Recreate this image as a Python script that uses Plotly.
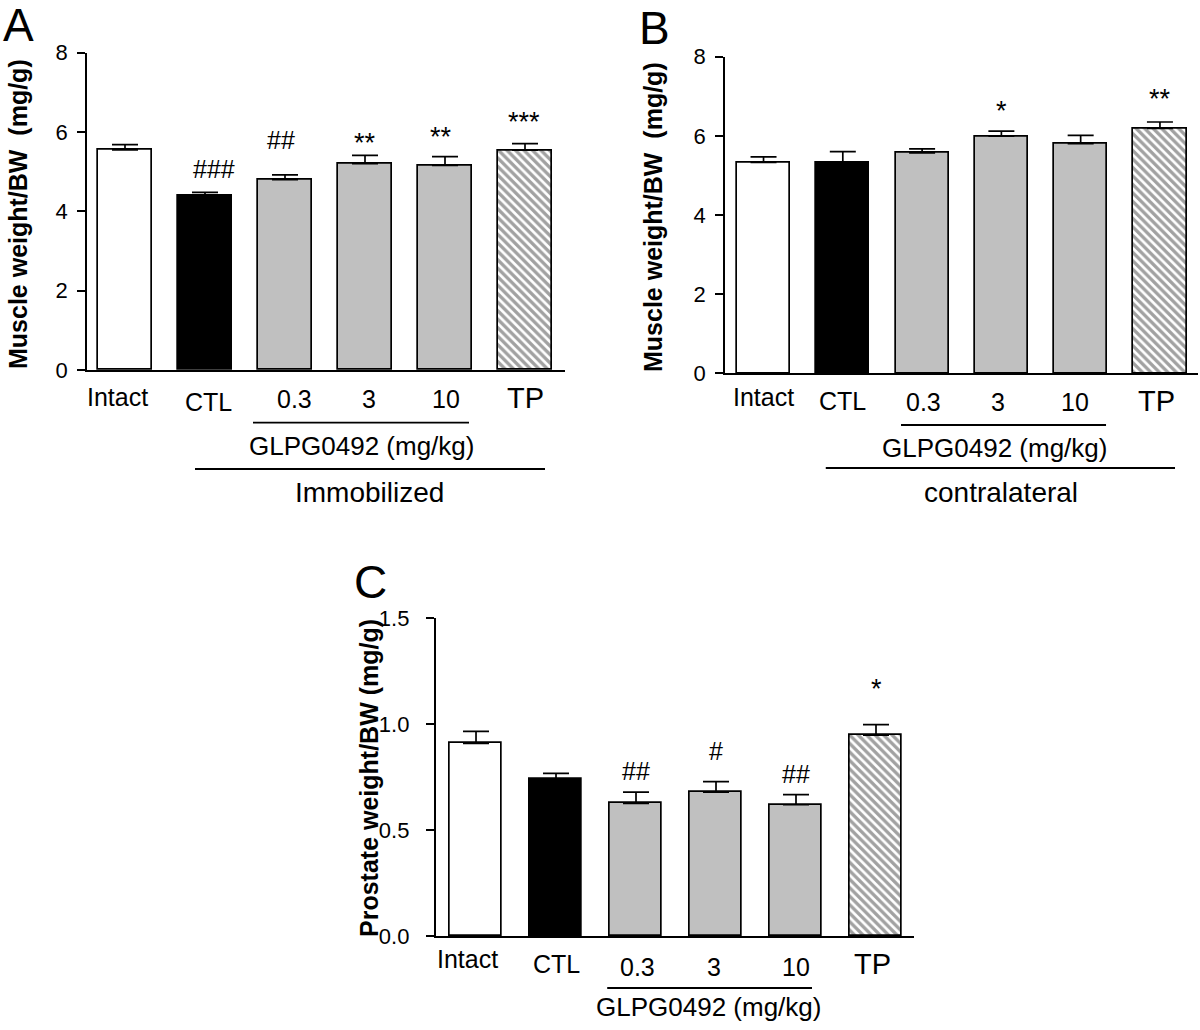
import plotly.graph_objects as go

# ---------------- data ----------------
categories = ["Intact", "CTL", "0.3", "3", "10", "TP"]

a_mean = [5.55, 4.39, 4.80, 5.20, 5.16, 5.54]
a_sem = [0.13, 0.09, 0.12, 0.21, 0.22, 0.17]
a_sig = ["", "###", "##", "**", "**", "***"]

b_mean = [5.33, 5.32, 5.57, 5.99, 5.80, 6.19]
b_sem = [0.14, 0.28, 0.10, 0.13, 0.21, 0.16]
b_sig = ["", "", "", "*", "", "**"]
b_sig2 = ["", "", "", "", "", "##"]

c_mean = [0.909, 0.739, 0.626, 0.679, 0.619, 0.947]
c_sem = [0.056, 0.028, 0.053, 0.049, 0.048, 0.050]
c_sig = ["", "", "##", "#", "##", "*"]

a_ticks = [0, 2, 4, 6, 8]
c_ticks = [0.0, 0.5, 1.0, 1.5]

# ---------------- styles / positions ----------------
W, H = 1200, 1030
FONT = "Liberation Sans, Arial, sans-serif"
fills = ["white", "black", "#c0c0c0", "#c0c0c0", "#c0c0c0", "white"]
patterns = ["", "", "", "", "", "\\"]

a_sig_y = [None, 5.08, 5.81, 5.90, 6.04, 6.42]
b_sig_y = [None, None, None, 6.80, None, 7.11]
b_sig2_y = [None, None, None, None, None, 8.02]
c_sig_y = [None, None, 0.78, 0.875, 0.764, 1.198]
a_sig_dx = [0, 9, -4, 0, -4, -1]


def px(x):
    return x / W


def py(y):
    return 1 - y / H


fig = go.Figure()

panels = [
    dict(name="1", mean=a_mean, sem=a_sem, xd=[87, 565], yd=[370, 52.7], xr=[-0.475, 5.5],
         yr=[0, 8], ticks=a_ticks, fmt="d", bw=0.675),
    dict(name="2", mean=b_mean, sem=b_sem, xd=[725, 1198], yd=[373.3, 56.7], xr=[-0.486, 5.48],
         yr=[0, 8], ticks=a_ticks, fmt="d", bw=0.67),
    dict(name="3", mean=c_mean, sem=c_sem, xd=[435.7, 914], yd=[936, 618], xr=[-0.504, 5.475],
         yr=[0, 1.5], ticks=c_ticks, fmt=".1f", bw=0.65),
]

layout = {}
for p in panels:
    n = p["name"]
    xa = "x" if n == "1" else "x" + n
    ya = "y" if n == "1" else "y" + n
    fig.add_trace(go.Bar(
        x=categories, y=p["mean"], xaxis=xa, yaxis=ya, width=p["bw"],
        marker=dict(color=fills, line=dict(color="black", width=1.7),
                    pattern=dict(shape=patterns, fgcolor="black", bgcolor="white",
                                 size=6, solidity=0.55, fillmode="overlay")),
        error_y=dict(type="data", array=p["sem"], arrayminus=[0] * len(p["sem"]),
                     symmetric=False, color="black", thickness=1.7, width=13),
        showlegend=False, hoverinfo="skip"))
    layout["xaxis" + ("" if n == "1" else n)] = dict(
        domain=[px(p["xd"][0]), px(p["xd"][1])], range=p["xr"], anchor=ya,
        type="category", showline=True, linecolor="black", linewidth=1.7,
        ticks="", showticklabels=False, showgrid=False, zeroline=False, fixedrange=True,
        automargin=False)
    layout["yaxis" + ("" if n == "1" else n)] = dict(
        domain=[py(p["yd"][0]), py(p["yd"][1])], range=p["yr"], anchor=xa,
        showline=True, linecolor="black", linewidth=1.7, ticks="outside", ticklen=8,
        tickwidth=1.7, tickcolor="black", tickvals=p["ticks"], tickformat=p["fmt"],
        tickfont=dict(family=FONT, size=22, color="black"), showgrid=False,
        zeroline=False, fixedrange=True, automargin=False,
        ticklabelstandoff=5 if n != "3" else 12)

fig.update_layout(**layout)

ann = []
txt = dict(family=FONT, color="black")

cat_y = {
    "1": [396.5, 401.5, 399, 399, 399, 398],
    "2": [396.5, 401, 401.5, 401.5, 401.5, 401],
    "3": [959, 963.5, 966.5, 966.5, 966.5, 964],
}
cat_dx = {
    "1": [-8, 3, 9, 4, 1, 0],
    "2": [0, 0, 1, -3, -6, -3],
    "3": [-9, 0, 1, -2, 0, -4],
}
for n in ["1", "2", "3"]:
    xr = "x" if n == "1" else "x" + n
    for i, c in enumerate(categories):
        ann.append(dict(x=i, xref=xr, y=py(cat_y[n][i]), yref="paper", text=c,
                        showarrow=False, xanchor="center", yanchor="middle",
                        xshift=cat_dx[n][i],
                        font=dict(size=29 if c == "TP" else 25, **txt)))


def sig(labels, ys, xr, yr, dx=None):
    for i, (s, yv) in enumerate(zip(labels, ys)):
        if not s:
            continue
        star = s.startswith("*")
        ann.append(dict(x=i, xref=xr, y=yv, yref=yr, text=s, showarrow=False,
                        xanchor="center", yanchor="middle",
                        yshift=-7 if star else 0, xshift=(dx[i] if dx else 0),
                        font=dict(size=27 if star else 25, **txt)))


sig(a_sig, a_sig_y, "x", "y", a_sig_dx)
sig(b_sig, b_sig_y, "x2", "y2")
sig(b_sig2, b_sig2_y, "x2", "y2")
sig(c_sig, c_sig_y, "x3", "y3")

groups = [
    ("x", 2.956, 446, "GLPG0492 (mg/kg)", 26),
    ("x", 3.05, 492, "Immobilized", 28),
    ("x2", 2.91, 448, "GLPG0492 (mg/kg)", 26),
    ("x2", 3.0, 492, "contralateral", 28),
    ("x3", 2.9, 1007, "GLPG0492 (mg/kg)", 26),
]
for xr, xv, yv, t, s in groups:
    ann.append(dict(x=xv, xref=xr, y=py(yv), yref="paper", text=t, showarrow=False,
                    xanchor="center", yanchor="middle", font=dict(size=s, **txt)))

titles = [
    (18, 214, "Muscle weight/BW\u00a0 (mg/g)"),
    (653, 217, "Muscle weight/BW\u00a0 (mg/g)"),
    (369, 778, "Prostate weight/BW (mg/g)"),
]
for xv, yv, t in titles:
    ann.append(dict(x=px(xv), xref="paper", y=py(yv), yref="paper", text="<b>" + t + "</b>",
                    textangle=-90, showarrow=False, xanchor="center", yanchor="middle",
                    font=dict(size=25, **txt)))

for xv, yv, t in [(18, 25, "A"), (654, 28, "B"), (370, 582, "C")]:
    ann.append(dict(x=px(xv), xref="paper", y=py(yv), yref="paper", text=t,
                    showarrow=False, xanchor="center", yanchor="middle",
                    font=dict(size=46, **txt)))

shapes = []
brackets = [
    ("x", 1.6, 4.3, 422.7),
    ("x", 0.875, 5.25, 469),
    ("x2", 1.734, 4.32, 425),
    ("x2", 0.785, 5.19, 468),
    ("x3", 1.64, 4.2, 988),
]
for xr, x0, x1, yv in brackets:
    shapes.append(dict(type="line", xref=xr, x0=x0, x1=x1, yref="paper", y0=py(yv), y1=py(yv),
                       line=dict(color="black", width=1.8)))

fig.update_layout(
    width=W, height=H, margin=dict(l=0, r=0, t=0, b=0, pad=0, autoexpand=False),
    paper_bgcolor="white", plot_bgcolor="white",
    annotations=ann, shapes=shapes, bargap=0, showlegend=False,
    font=dict(family=FONT, color="black"),
)

fig.write_html("out.html", config={"displayModeBar": False},
               post_script="document.body.style.margin='0';document.body.style.overflow='hidden';")
